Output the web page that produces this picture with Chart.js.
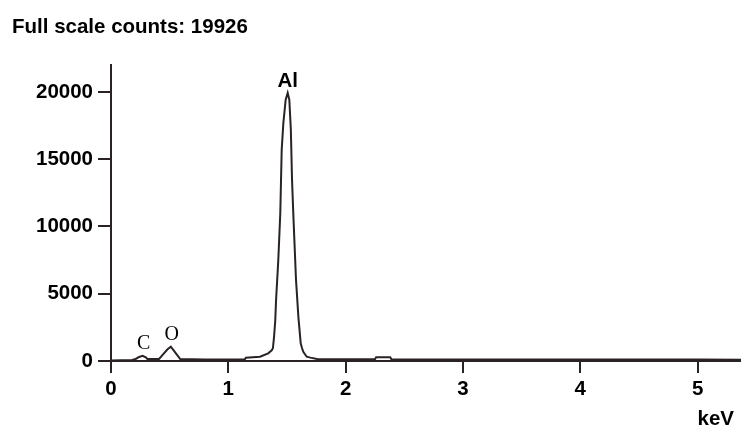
<!DOCTYPE html>
<html>
<head>
<meta charset="utf-8">
<script src="https://cdn.jsdelivr.net/npm/chart.js@4/dist/chart.umd.min.js"></script>
<style>
  html, body { margin: 0; padding: 0; background: #fff; }
  #wrap { position: relative; width: 741px; height: 427px; }
</style>
</head>
<body>
<div id="wrap"><canvas id="c" width="741" height="427"></canvas></div>
<script>
// Spectrum
const energies = [0, 0.18, 0.21, 0.24, 0.27, 0.30, 0.31, 0.41, 0.44, 0.48, 0.51, 0.55, 0.59, 0.80, 1.00, 1.14, 1.15, 1.27, 1.34, 1.37, 1.38, 1.39, 1.40, 1.407, 1.426, 1.443, 1.455, 1.469, 1.489, 1.506, 1.520, 1.533, 1.543, 1.556, 1.577, 1.597, 1.617, 1.628, 1.639, 1.668, 1.70, 1.765, 2.00, 2.25, 2.26, 2.38, 2.39, 3.00, 4.00, 5.00, 5.37];
const counts   = [40, 80, 150, 300, 390, 250, 140, 150, 450, 850, 1060, 600, 140, 120, 110, 120, 240, 320, 570, 800, 945, 1810, 3000, 4540, 7510, 11000, 15700, 17680, 19420, 19926, 19420, 17190, 13470, 10490, 6030, 3300, 1320, 970, 690, 320, 250, 130, 130, 130, 280, 280, 130, 120, 110, 110, 100];
const xTicks = [0, 1, 2, 3, 4, 5];
const yTicks = [0, 5000, 10000, 15000, 20000];
const peakNames = ['C', 'O', 'Al'];
const peakEnergies = [0.27, 0.51, 1.506];
const peakCounts = [390, 1060, 19926];
const titleText = 'Full scale counts: 19926';
const xUnit = 'keV';

const points = energies.map((e, i) => ({ x: e, y: counts[i] }));
const ink = '#2a2226';
const boldFont = 'bold 20.5px "Liberation Sans", Arial, sans-serif';

const labelsPlugin = {
  id: 'labelsPlugin',
  afterDraw(chart) {
    const ctx = chart.ctx;
    const xs = chart.scales.x, ys = chart.scales.y;
    ctx.save();
    ctx.fillStyle = '#000';
    ctx.textBaseline = 'alphabetic';
    ctx.textAlign = 'left';
    ctx.font = boldFont;
    ctx.fillText(titleText, 12, 33);
    ctx.textAlign = 'right';
    ctx.fillText(xUnit, 734, 425);
    peakNames.forEach((n, i) => {
      const px = xs.getPixelForValue(peakEnergies[i]);
      const py = ys.getPixelForValue(peakCounts[i]);
      ctx.textAlign = 'center';
      if (n === 'Al') {
        ctx.font = boldFont;
        ctx.fillText(n, px, py - 6);
      } else {
        ctx.font = '20px "Liberation Serif", "Times New Roman", serif';
        ctx.fillText(n, px + 1, py - 7);
      }
    });
    ctx.restore();
  }
};

const tickFont = { family: '"Liberation Sans", Arial, sans-serif', size: 20.5, weight: 'bold' };

new Chart(document.getElementById('c'), {
  type: 'line',
  data: {
    datasets: [{
      data: points,
      borderColor: ink,
      borderWidth: 2,
      pointRadius: 0,
      tension: 0,
      fill: false
    }]
  },
  options: {
    responsive: false,
    animation: false,
    layout: { padding: { top: 65, right: 0, left: 0, bottom: 0 } },
    plugins: { legend: { display: false }, tooltip: { enabled: false } },
    scales: {
      x: {
        type: 'linear',
        min: 0,
        max: 5.37,
        afterBuildTicks(scale) { scale.ticks = xTicks.map(v => ({ value: v })); },
        afterFit(scale) { scale.height = 66; },
        border: { display: true, color: ink, width: 2 },
        grid: { drawOnChartArea: false, drawTicks: true, tickLength: 12, color: ink, lineWidth: 2 },
        ticks: {
          color: '#000',
          font: tickFont,
          padding: 4,
          maxRotation: 0,
          autoSkip: false,
          callback: v => String(v)
        }
      },
      y: {
        type: 'linear',
        min: 0,
        max: 22000,
        afterBuildTicks(scale) { scale.ticks = yTicks.map(v => ({ value: v })); },
        afterFit(scale) { scale.width = 111; },
        border: { display: true, color: ink, width: 2 },
        grid: { drawOnChartArea: false, drawTicks: true, tickLength: 13, color: ink, lineWidth: 2 },
        ticks: {
          color: '#000',
          font: tickFont,
          padding: 5,
          autoSkip: false,
          callback: v => String(v)
        }
      }
    }
  },
  plugins: [labelsPlugin]
});
</script>
</body>
</html>
